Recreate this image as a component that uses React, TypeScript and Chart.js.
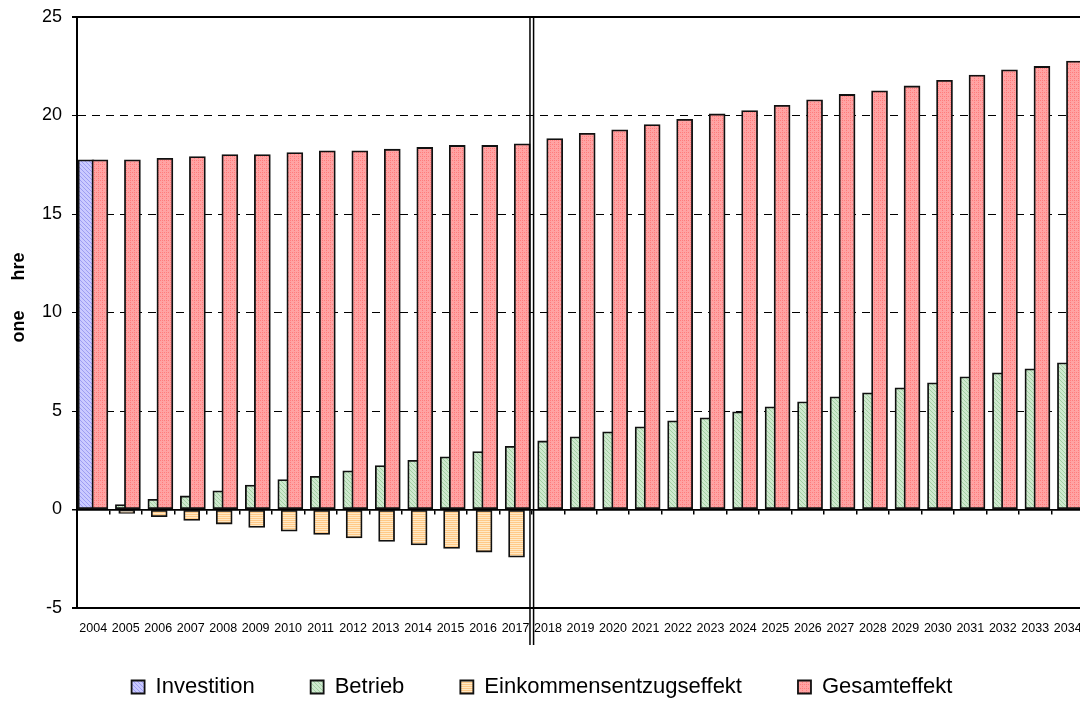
import React, { useEffect, useRef } from "react";
import { Chart, registerables } from "chart.js";

Chart.register(...registerables);

const years = [
  "2004", "2005", "2006", "2007", "2008", "2009", "2010", "2011", "2012", "2013",
  "2014", "2015", "2016", "2017", "2018", "2019", "2020", "2021", "2022", "2023",
  "2024", "2025", "2026", "2027", "2028", "2029", "2030", "2031", "2032", "2033", "2034",
];

const investition: (number | null)[] = [
  17.75, null, null, null, null, null, null, null, null, null,
  null, null, null, null, null, null, null, null, null, null,
  null, null, null, null, null, null, null, null, null, null, null,
];

const betrieb: (number | null)[] = [
  null, 0.25, 0.52, 0.69, 0.95, 1.24, 1.52, 1.69, 1.96, 2.23,
  2.5, 2.67, 2.94, 3.21, 3.48, 3.69, 3.94, 4.2, 4.5, 4.65,
  4.96, 5.21, 5.47, 5.72, 5.92, 6.18, 6.43, 6.74, 6.94, 7.14, 7.45,
];

const einkommensentzug: (number | null)[] = [
  null, -0.2, -0.37, -0.56, -0.74, -0.91, -1.1, -1.27, -1.44, -1.62,
  -1.8, -1.98, -2.16, -2.42, null, null, null, null, null, null,
  null, null, null, null, null, null, null, null, null, null, null,
];

const gesamteffekt: (number | null)[] = [
  17.75, 17.75, 17.83, 17.92, 18.02, 18.02, 18.12, 18.21, 18.21, 18.29,
  18.38, 18.48, 18.48, 18.56, 18.83, 19.1, 19.27, 19.54, 19.81, 20.08,
  20.25, 20.52, 20.8, 21.07, 21.25, 21.5, 21.79, 22.05, 22.32, 22.49, 22.76,
];

const seriesNames = ["Investition", "Betrieb", "Einkommensentzugseffekt", "Gesamteffekt"];
const yMin = -5;
const yMax = 25;
const yStep = 5;
const yAxisTitle = "      one      hre";
const separatorAfter = "2017";

function makePattern(base: string, ink: string, kind: string): CanvasPattern | string {
  const c = document.createElement("canvas");
  c.width = 4;
  c.height = 4;
  const g = c.getContext("2d");
  if (!g) return base;
  g.fillStyle = base;
  g.fillRect(0, 0, 4, 4);
  g.fillStyle = ink;
  if (kind === "stripes") {
    g.fillRect(0, 0, 4, 1);
    g.fillRect(0, 2, 4, 1);
  } else if (kind === "diag") {
    for (let i = 0; i < 4; i++) g.fillRect(i, i, 1, 1);
  } else {
    g.fillRect(0, 0, 1, 1);
    g.fillRect(2, 2, 1, 1);
    g.fillRect(2, 0, 1, 1);
  }
  return g.createPattern(c, "repeat") || base;
}

function points(values: (number | null)[], offset: number) {
  const out: { x: number; y: number }[] = [];
  values.forEach((v, i) => {
    if (v !== null && v !== undefined) out.push({ x: i + offset, y: v });
  });
  return out;
}

const separatorPlugin = {
  id: "separator",
  afterDatasetsDraw(chart: any) {
    const xb = chart.scales.xb;
    const { top, bottom } = chart.chartArea;
    const idx = years.indexOf(separatorAfter);
    const px = xb.getPixelForValue(idx + 0.5);
    const ctx = chart.ctx;
    ctx.save();
    ctx.strokeStyle = "#000";
    ctx.lineWidth = 1.5;
    [px - 1.8, px + 1.8].forEach((x) => {
      ctx.beginPath();
      ctx.moveTo(x, top);
      ctx.lineTo(x, bottom + 37);
      ctx.stroke();
    });
    ctx.restore();
  },
};

export default function App() {
  const ref = useRef<HTMLCanvasElement | null>(null);

  useEffect(() => {
    if (!ref.current) return;
    Chart.defaults.font.family = "'Liberation Sans', Arial, sans-serif";
    Chart.defaults.color = "#000";

    const blue = makePattern("#cacaff", "#9d9df3", "diag");
    const green = makePattern("#cfe9cf", "#a2d0a2", "diag");
    const orange = makePattern("#ffe9c6", "#ffc987", "stripes");
    const red = makePattern("#ffa3a3", "#ff7c7c", "dots");

    const common = {
      type: "bar" as const,
      xAxisID: "xb",
      yAxisID: "y",
      grouped: false,
      barThickness: 16,
      borderColor: "#111",
      borderWidth: 1.8,
      borderSkipped: false as const,
    };

    const chart = new Chart(ref.current, {
      type: "bar",
      data: {
        labels: years,
        datasets: [
          { ...common, label: seriesNames[0], data: points(investition, -0.222), backgroundColor: blue as any, order: 1 },
          { ...common, label: seriesNames[1], data: points(betrieb, -0.072), backgroundColor: green as any, order: 1 },
          { ...common, label: seriesNames[2], data: points(einkommensentzug, 0.031), backgroundColor: orange as any, order: 1 },
          { ...common, label: seriesNames[3], data: points(gesamteffekt, 0.206), backgroundColor: red as any, order: 0 },
        ] as any,
      },
      options: {
        responsive: false,
        animation: false,
        layout: { padding: { top: 17, left: 0, right: 0, bottom: 0 } },
        plugins: {
          legend: {
            position: "bottom",
            labels: {
              font: { size: 22 },
              color: "#000",
              boxWidth: 13,
              boxHeight: 13,
              padding: 56,
              sort: (a: any, b: any) => a.datasetIndex - b.datasetIndex,
            },
          },
          tooltip: { enabled: false },
        },
        scales: {
          xb: {
            type: "linear",
            display: false,
            offset: false,
            min: -0.5,
            max: years.length - 0.5,
            grid: { display: false },
          },
          x: {
            type: "category",
            position: "bottom",
            offset: true,
            grid: { display: false, offset: true },
            border: { display: true, color: "#000", width: 2 },
            ticks: { display: false },
            afterFit: (s: any) => {
              s.height = 12;
            },
          },
          xl: {
            type: "category",
            position: { y: yMin } as any,
            offset: true,
            grid: {
              offset: true,
              drawOnChartArea: false,
              drawTicks: true,
              tickLength: 13,
              tickColor: "rgba(0,0,0,0)",
              color: "rgba(0,0,0,0)",
            },
            border: { display: false },
            ticks: {
              autoSkip: false,
              maxRotation: 0,
              minRotation: 0,
              padding: 0,
              font: { size: 12.5 },
              color: "#000",
            },
          },
          x0: {
            type: "category",
            position: { y: 0 } as any,
            offset: true,
            grid: {
              offset: true,
              drawOnChartArea: false,
              drawTicks: true,
              tickLength: 4,
              color: "#000",
              lineWidth: 1.5,
            },
            border: { display: true, color: "#000", width: 1.5 },
            ticks: { display: false },
          },
          y: {
            type: "linear",
            position: "left",
            min: yMin,
            max: yMax,
            ticks: {
              stepSize: yStep,
              padding: 10,
              font: { size: 18, lineHeight: 0.7 },
              color: "#000",
            },
            grid: {
              color: "#000",
              lineWidth: (ctx: any) => {
                const v = ctx.tick ? ctx.tick.value : 0;
                return v === yMax || v === yMin ? 2 : v === 0 ? 1.5 : 1;
              },
              drawTicks: true,
              tickLength: 5,
              tickColor: "#000",
            },
            border: {
              display: true,
              color: "#000",
              width: 2,
              dash: (ctx: any) => {
                const v = ctx.tick ? ctx.tick.value : 0;
                return v === yMax || v === yMin || v === 0 ? [] : [8, 6];
              },
            },
            title: {
              display: true,
              text: yAxisTitle,
              font: { size: 18, weight: "bold" },
              color: "#000",
              padding: { top: 8, bottom: 0 },
            },
            afterFit: (s: any) => {
              s.width = 77;
            },
          },
        },
      } as any,
      plugins: [separatorPlugin],
    });

    return () => chart.destroy();
  }, []);

  return (
    <div
      style={{
        position: "fixed",
        left: 0,
        top: 0,
        width: 1080,
        height: 702,
        overflow: "hidden",
        background: "#fff",
      }}
    >
      <canvas ref={ref} width={1084} height={708} style={{ display: "block", width: 1084, height: 708 }} />
    </div>
  );
}
